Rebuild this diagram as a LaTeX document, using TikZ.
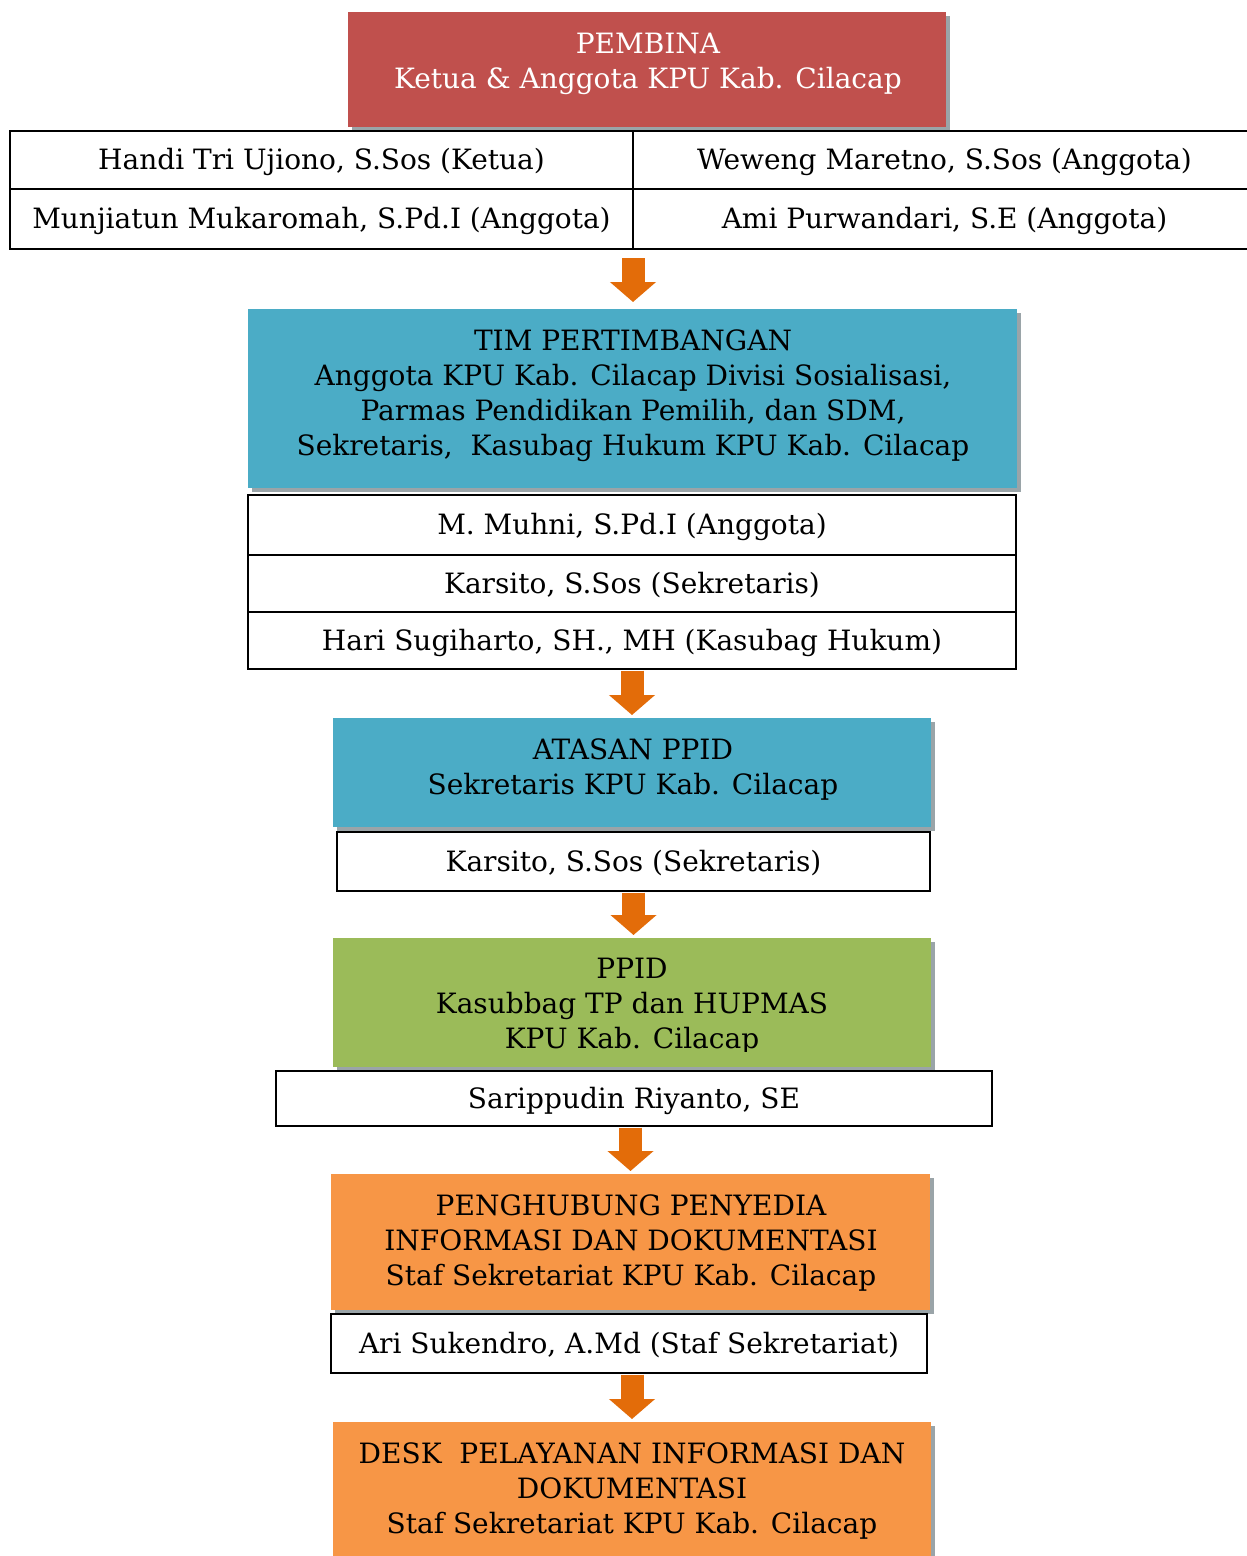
\documentclass[tikz,border=0pt]{standalone}
\usepackage{fontspec}
\setmainfont{DejaVu Serif}
\usetikzlibrary{arrows.meta,shadows}
\definecolor{cred}{HTML}{C0504D}
\definecolor{cblue}{HTML}{4BACC6}
\definecolor{cgreen}{HTML}{9BBB59}
\definecolor{corange}{HTML}{F79646}
\definecolor{carrow}{HTML}{E36C09}
\definecolor{cshadow}{HTML}{9AA4A8}
\begin{document}
\begin{tikzpicture}[x=1pt,y=-1pt,
  every node/.style={inner sep=0pt,outer sep=0pt},
  colbox/.style={anchor=north west,draw=none,
     drop shadow={shadow xshift=3.5pt,shadow yshift=-3.5pt,fill=cshadow,opacity=1}},
  cell/.style={anchor=north west,draw=black,fill=white,line width=1.6pt,
     font=\fontsize{28}{35}\selectfont,text height=25pt,text depth=6pt},
  txt/.style={align=center,font=\fontsize{28}{35}\selectfont},
  arr/.style={draw=carrow,line width=23pt,line cap=butt,
     -{Triangle[width=45pt,length=20pt]},shorten <=1.5pt,shorten >=3pt}]
\useasboundingbox (0,0) rectangle (1247,1556);
\fill[white] (0,0) rectangle (1247,1556);

% PEMBINA
\node[colbox,fill=cred,minimum width=598pt,minimum height=115pt] (pembina) at (348,12) {};
\node[txt,text=white] (pembinaT) at (648,63.5) {PEMBINA\\Ketua \& Anggota KPU Kab. Cilacap};

% table 1
\node[cell,minimum width=623pt,minimum height=58pt] (h11) at (10,131) {Handi Tri Ujiono, S.Sos (Ketua)};
\node[cell,minimum width=623pt,minimum height=58pt] (h12) at (633,131) {Weweng Maretno, S.Sos (Anggota)};
\node[cell,minimum width=623pt,minimum height=60pt] (h21) at (10,189) {Munjiatun Mukaromah, S.Pd.I (Anggota)};
\node[cell,minimum width=623pt,minimum height=60pt] (h22) at (633,189) {Ami Purwandari, S.E (Anggota)};

% TIM PERTIMBANGAN
\node[colbox,fill=cblue,minimum width=769pt,minimum height=179pt] (tim) at (248,309) {};
\node[txt] (timT) at (633,396) {TIM PERTIMBANGAN\\Anggota KPU Kab. Cilacap Divisi Sosialisasi,\\Parmas Pendidikan Pemilih, dan SDM,\\Sekretaris,\ \ Kasubag Hukum KPU Kab. Cilacap};

\node[cell,minimum width=768pt,minimum height=60pt] (t1) at (248,495) {M. Muhni, S.Pd.I (Anggota)};
\node[cell,minimum width=768pt,minimum height=57pt] (t2) at (248,555) {Karsito, S.Sos (Sekretaris)};
\node[cell,minimum width=768pt,minimum height=57pt] (t3) at (248,612) {Hari Sugiharto, SH., MH (Kasubag Hukum)};

% ATASAN PPID
\node[colbox,fill=cblue,minimum width=598pt,minimum height=109pt] (atasan) at (333,718) {};
\node[txt] (atasanT) at (633,769.5) {ATASAN PPID\\Sekretaris KPU Kab. Cilacap};
\node[cell,minimum width=593pt,minimum height=59pt] (kars) at (337,832) {Karsito, S.Sos (Sekretaris)};

% PPID
\node[colbox,fill=cgreen,minimum width=598pt,minimum height=129pt] (ppid) at (333,938) {};
\begin{scope}
\clip (0,900) rectangle (1247,1051);
\node[txt] (ppidT) at (632,1006) {PPID\\Kasubbag TP dan HUPMAS\\KPU Kab. Cilacap};
\end{scope}
\node[cell,minimum width=716pt,minimum height=55pt] (sarip) at (276,1071) {Sarippudin Riyanto, SE};

% PENGHUBUNG
\node[colbox,fill=corange,minimum width=599pt,minimum height=136pt] (peng) at (331,1174) {};
\node[txt] (pengT) at (631,1243) {PENGHUBUNG PENYEDIA\\INFORMASI DAN DOKUMENTASI\\Staf Sekretariat KPU Kab. Cilacap};
\node[cell,minimum width=596pt,minimum height=59pt] (ari) at (331,1314) {Ari Sukendro, A.Md (Staf Sekretariat)};

% DESK
\node[colbox,fill=corange,minimum width=598pt,minimum height=150pt] (desk) at (333,1422) {};
\node[txt] (deskT) at (632,1491) {DESK\ \ PELAYANAN INFORMASI DAN\\DOKUMENTASI\\Staf Sekretariat KPU Kab. Cilacap};

% arrows
\draw[arr,shorten <=9pt,shorten >=7pt] (h21.south east) -- (h21.south east |- tim.north);
\draw[arr] (t3.south) -- (t3.south |- atasan.north);
\draw[arr] (kars.south) -- (kars.south |- ppid.north);
\draw[arr] (sarip.south -| peng.north) -- (peng.north);
\draw[arr] (ari.south -| desk.north) -- (desk.north);
\end{tikzpicture}
\end{document}
